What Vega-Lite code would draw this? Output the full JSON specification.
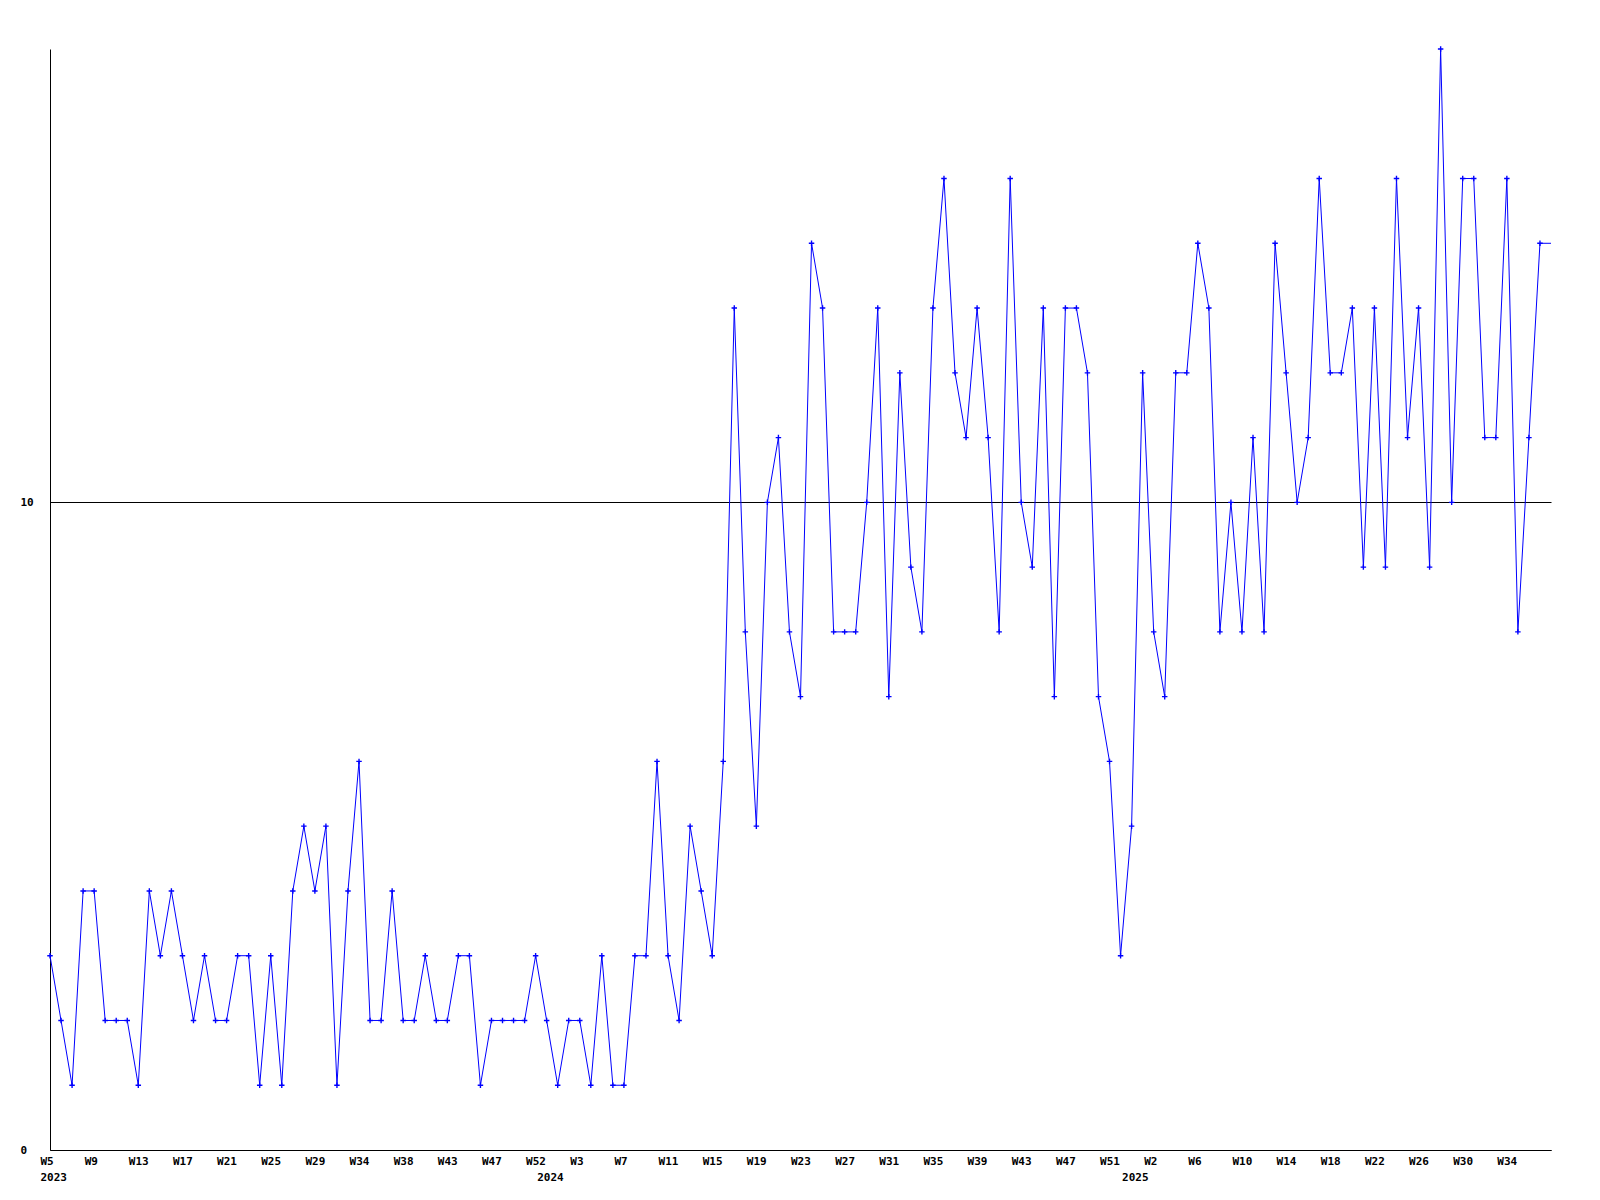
{
  "$schema": "https://vega.github.io/schema/vega-lite/v6.json",
  "width": 1501,
  "height": 1101,
  "autosize": {"type": "none"},
  "padding": {"left": 50, "top": 49, "right": 49, "bottom": 50},
  "background": "white",
  "config": {"view": {"stroke": null}},
  "data": {
    "values": [
      {"week": 0, "count": 3}, {"week": 1, "count": 2}, {"week": 2, "count": 1}, {"week": 3, "count": 4}, {"week": 4, "count": 4},
      {"week": 5, "count": 2}, {"week": 6, "count": 2}, {"week": 7, "count": 2}, {"week": 8, "count": 1}, {"week": 9, "count": 4},
      {"week": 10, "count": 3}, {"week": 11, "count": 4}, {"week": 12, "count": 3}, {"week": 13, "count": 2}, {"week": 14, "count": 3},
      {"week": 15, "count": 2}, {"week": 16, "count": 2}, {"week": 17, "count": 3}, {"week": 18, "count": 3}, {"week": 19, "count": 1},
      {"week": 20, "count": 3}, {"week": 21, "count": 1}, {"week": 22, "count": 4}, {"week": 23, "count": 5}, {"week": 24, "count": 4},
      {"week": 25, "count": 5}, {"week": 26, "count": 1}, {"week": 27, "count": 4}, {"week": 28, "count": 6}, {"week": 29, "count": 2},
      {"week": 30, "count": 2}, {"week": 31, "count": 4}, {"week": 32, "count": 2}, {"week": 33, "count": 2}, {"week": 34, "count": 3},
      {"week": 35, "count": 2}, {"week": 36, "count": 2}, {"week": 37, "count": 3}, {"week": 38, "count": 3}, {"week": 39, "count": 1},
      {"week": 40, "count": 2}, {"week": 41, "count": 2}, {"week": 42, "count": 2}, {"week": 43, "count": 2}, {"week": 44, "count": 3},
      {"week": 45, "count": 2}, {"week": 46, "count": 1}, {"week": 47, "count": 2}, {"week": 48, "count": 2}, {"week": 49, "count": 1},
      {"week": 50, "count": 3}, {"week": 51, "count": 1}, {"week": 52, "count": 1}, {"week": 53, "count": 3}, {"week": 54, "count": 3},
      {"week": 55, "count": 6}, {"week": 56, "count": 3}, {"week": 57, "count": 2}, {"week": 58, "count": 5}, {"week": 59, "count": 4},
      {"week": 60, "count": 3}, {"week": 61, "count": 6}, {"week": 62, "count": 13}, {"week": 63, "count": 8}, {"week": 64, "count": 5},
      {"week": 65, "count": 10}, {"week": 66, "count": 11}, {"week": 67, "count": 8}, {"week": 68, "count": 7}, {"week": 69, "count": 14},
      {"week": 70, "count": 13}, {"week": 71, "count": 8}, {"week": 72, "count": 8}, {"week": 73, "count": 8}, {"week": 74, "count": 10},
      {"week": 75, "count": 13}, {"week": 76, "count": 7}, {"week": 77, "count": 12}, {"week": 78, "count": 9}, {"week": 79, "count": 8},
      {"week": 80, "count": 13}, {"week": 81, "count": 15}, {"week": 82, "count": 12}, {"week": 83, "count": 11}, {"week": 84, "count": 13},
      {"week": 85, "count": 11}, {"week": 86, "count": 8}, {"week": 87, "count": 15}, {"week": 88, "count": 10}, {"week": 89, "count": 9},
      {"week": 90, "count": 13}, {"week": 91, "count": 7}, {"week": 92, "count": 13}, {"week": 93, "count": 13}, {"week": 94, "count": 12},
      {"week": 95, "count": 7}, {"week": 96, "count": 6}, {"week": 97, "count": 3}, {"week": 98, "count": 5}, {"week": 99, "count": 12},
      {"week": 100, "count": 8}, {"week": 101, "count": 7}, {"week": 102, "count": 12}, {"week": 103, "count": 12}, {"week": 104, "count": 14},
      {"week": 105, "count": 13}, {"week": 106, "count": 8}, {"week": 107, "count": 10}, {"week": 108, "count": 8}, {"week": 109, "count": 11},
      {"week": 110, "count": 8}, {"week": 111, "count": 14}, {"week": 112, "count": 12}, {"week": 113, "count": 10}, {"week": 114, "count": 11},
      {"week": 115, "count": 15}, {"week": 116, "count": 12}, {"week": 117, "count": 12}, {"week": 118, "count": 13}, {"week": 119, "count": 9},
      {"week": 120, "count": 13}, {"week": 121, "count": 9}, {"week": 122, "count": 15}, {"week": 123, "count": 11}, {"week": 124, "count": 13},
      {"week": 125, "count": 9}, {"week": 126, "count": 17}, {"week": 127, "count": 10}, {"week": 128, "count": 15}, {"week": 129, "count": 15},
      {"week": 130, "count": 11}, {"week": 131, "count": 11}, {"week": 132, "count": 15}, {"week": 133, "count": 8}, {"week": 134, "count": 11},
      {"week": 135, "count": 14},
      {"week": 136, "count": 14, "current": true}
    ]
  },
  "encoding": {
    "x": {
      "field": "week",
      "type": "quantitative",
      "scale": {"domain": [0, 136], "nice": false, "zero": false},
      "axis": {
        "title": null,
        "values": [0, 4, 8, 12, 16, 20, 24, 28, 32, 36, 40, 44, 45, 48, 52, 56, 60, 64, 68, 72, 76, 80, 84, 88, 92, 96, 98, 100, 104, 108, 112, 116, 120, 124, 128, 132],
        "labelExpr": "datum.value == 0 ? ['W5', '2023'] : datum.value == 45 ? [' ', '2024'] : datum.value == 98 ? [' ', '2025'] : ['W5','W9','W13','W17','W21','W25','W29','W34','W38','W43','W47','W52','W3','W7','W11','W15','W19','W23','W27','W31','W35','W39','W43','W47','W51','W2','W6','W10','W14','W18','W22','W26','W30','W34'][datum.value / 4]",
        "grid": false,
        "ticks": false,
        "tickSize": 0,
        "domain": true,
        "domainColor": "#000000",
        "domainWidth": 1,
        "labelAlign": "left",
        "labelOffset": -10,
        "labelBaseline": "top",
        "labelPadding": 5,
        "labelLineHeight": 16,
        "labelFont": "DejaVu Sans Mono",
        "labelFontWeight": "bold",
        "labelFontSize": 11,
        "labelColor": "#000000",
        "labelOverlap": false,
        "labelFlush": false,
        "labelBound": false
      }
    },
    "y": {
      "field": "count",
      "type": "quantitative",
      "scale": {"domain": [0, 17], "nice": false},
      "axis": {
        "title": null,
        "values": [0, 10],
        "grid": true,
        "gridColor": "#000000",
        "gridOpacity": 1,
        "gridWidth": 1,
        "ticks": false,
        "tickSize": 0,
        "domain": true,
        "domainColor": "#000000",
        "domainWidth": 1,
        "labelAlign": "left",
        "labelBaseline": "middle",
        "labelPadding": 30,
        "labelFont": "DejaVu Sans Mono",
        "labelFontWeight": "bold",
        "labelFontSize": 11,
        "labelColor": "#000000",
        "labelOverlap": false,
        "labelFlush": false,
        "labelBound": false
      }
    }
  },
  "layer": [
    {
      "mark": {"type": "line", "color": "#0000ff", "strokeWidth": 1, "clip": true}
    },
    {
      "transform": [{"filter": "datum.current !== true"}],
      "mark": {
        "type": "point",
        "shape": "M-1,-0.25H1V0.25H-1Z M-0.25,-1H0.25V1H-0.25Z",
        "filled": true,
        "size": 30,
        "color": "#0000ff",
        "opacity": 1,
        "strokeWidth": 0
      }
    }
  ]
}
